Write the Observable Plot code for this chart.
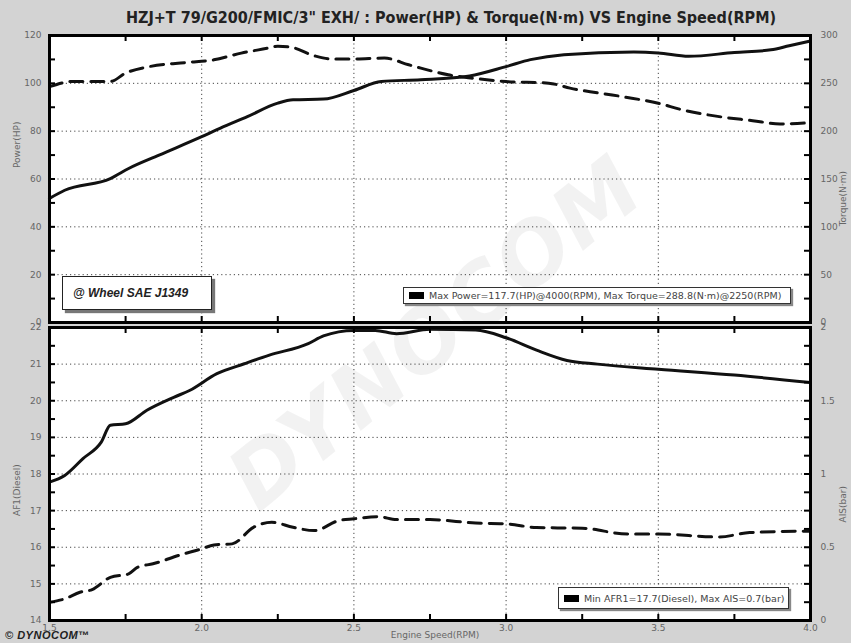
<!DOCTYPE html>
<html><head><meta charset="utf-8">
<script src="https://cdn.jsdelivr.net/npm/d3@7"></script>
<script src="https://cdn.jsdelivr.net/npm/@observablehq/plot@0.6"></script>
<style>
body{margin:0;background:#d3d3d3;}
#wrap{position:relative;width:851px;height:643px;background:#d3d3d3;overflow:hidden;font-family:"DejaVu Sans",sans-serif;}
.abs{position:absolute;}
.panel{position:absolute;background:#fff;overflow:hidden;}
svg{position:absolute;left:0;top:0;background:transparent !important;}
.legend{position:absolute;background:#fff;border:1px solid #333;box-shadow:2px 2px 1px #888;font-size:9.5px;color:#444;display:flex;align-items:center;white-space:nowrap;}
.sw{display:inline-block;flex:0 0 15px;width:15px;height:7px;background:#000;margin:0 5px 0 5px;}
.wm{position:absolute;font:italic 900 85px 'DejaVu Sans',sans-serif;color:rgba(0,0,0,0.05);transform:rotate(-39deg);transform-origin:left center;letter-spacing:2px;line-height:1;white-space:nowrap;}
</style></head>
<body>
<div id="wrap">
  <div class="panel" style="left:49px;top:35px;width:761px;height:287px"><div class="wm" style="left:191px;top:413px">DYNOCOM</div></div>
  <div class="panel" style="left:49px;top:327px;width:761px;height:293px"><div class="wm" style="left:191px;top:121px">DYNOCOM</div></div>
  <div class="abs" id="title" style="left:0;width:902px;top:8px;text-align:center;font:bold 16px 'DejaVu Sans Condensed','DejaVu Sans',sans-serif;color:#222"></div>
  <div id="top"></div>
  <div id="bot"></div>
  <div class="legend" style="left:62px;top:276px;width:148px;height:32px;border-color:#222;box-shadow:3px 3px 1px #777;font:italic bold 12px 'Liberation Sans',Arial,sans-serif;color:#222;"><span style="margin-left:10px">@ Wheel SAE J1349</span></div>
  <div class="legend" id="leg1" style="left:403px;top:287px;width:386px;height:15px"></div>
  <div class="legend" id="leg2" style="left:558px;top:587px;width:229px;height:20px"></div>
  <div class="abs" style="left:5px;top:629px;font:italic bold 11px 'Liberation Sans',Arial,sans-serif;color:#222;letter-spacing:0.5px">© DYNOCOM™</div>
</div>
<script>
const titleText = "HZJ+T 79/G200/FMIC/3\" EXH/ : Power(HP) & Torque(N·m) VS Engine Speed(RPM)";
const legendTop = "Max Power=117.7(HP)@4000(RPM), Max Torque=288.8(N·m)@2250(RPM)";
const legendBot = "Min AFR1=17.7(Diesel), Max AIS=0.7(bar)";

// Power (HP) vs engine speed (x1000 RPM)
const powerRpm = [1.50,1.55,1.70,1.76,1.86,2.00,2.06,2.15,2.25,2.30,2.40,2.50,2.59,2.72,2.88,3.00,3.08,3.19,3.42,3.50,3.60,3.75,3.87,3.93,4.00];
const powerHp  = [51.9,55.3,60.2,64.4,70.0,77.7,81.2,86.1,91.7,93.1,93.4,97.0,100.8,101.5,103.1,107.0,109.9,112.0,113.1,112.7,111.3,112.9,114.0,115.7,117.7];
// Torque (N·m)
const torqueRpm = [1.50,1.58,1.70,1.75,1.83,1.95,2.04,2.13,2.22,2.25,2.29,2.37,2.43,2.50,2.60,2.68,2.72,2.81,2.89,3.00,3.14,3.21,3.38,3.50,3.58,3.70,3.81,3.90,4.00];
const torqueNm  = [246.6,252,252,260.7,267.6,271.8,274.6,281.6,286.9,288.8,288,278.8,275.4,275.4,276.4,269.4,265.9,258.9,255.4,251.9,250.2,245,236.2,229.2,222.2,215.2,211,207.5,208.9];
// AFR1 (Diesel)
const afrRpm = [1.50,1.55,1.61,1.67,1.70,1.75,1.82,1.91,1.96,2.05,2.14,2.22,2.35,2.40,2.50,2.57,2.64,2.75,2.90,3.00,3.10,3.20,3.30,3.50,3.75,4.00];
const afrVal = [17.78,17.96,18.42,18.87,19.33,19.37,19.74,20.10,20.28,20.74,21.01,21.24,21.56,21.77,21.92,21.92,21.83,21.95,21.93,21.72,21.38,21.10,21.00,20.86,20.70,20.50];
// AIS (bar)
const aisRpm = [1.50,1.55,1.60,1.64,1.70,1.76,1.79,1.84,1.93,2.00,2.04,2.10,2.17,2.23,2.30,2.37,2.45,2.50,2.58,2.64,2.75,2.90,3.00,3.10,3.25,3.40,3.50,3.70,3.80,4.00];
const aisVal = [0.125,0.148,0.193,0.211,0.295,0.318,0.364,0.387,0.448,0.489,0.516,0.523,0.636,0.671,0.636,0.614,0.682,0.694,0.709,0.689,0.689,0.665,0.66,0.634,0.63,0.59,0.59,0.57,0.60,0.61];

const xTicks = [1.75,2,2.25,2.5,2.75,3,3.25,3.5,3.75];
const xLabels = [1.5,2,2.5,3,3.5,4];
const hpLabels = [0,20,40,60,80,100,120];
const hpTicks = d3.range(10,120,10);
const afrLabels = [14,15,16,17,18,19,20,21,22];
const afrTicks = d3.range(14.5,22,0.5);
const aisLabels = [0,0.5,1,1.5,2];

const power = powerRpm.map((r,i)=>({rpm:r, v:powerHp[i]}));
const torque = torqueRpm.map((r,i)=>({rpm:r, v:torqueNm[i]}));
const afr = afrRpm.map((r,i)=>({rpm:r, v:afrVal[i]}));
const ais = aisRpm.map((r,i)=>({rpm:r, v:aisVal[i]}));

document.getElementById("title").textContent = titleText;
document.getElementById("leg1").innerHTML = '<span class="sw"></span>';
document.getElementById("leg1").append(legendTop);
document.getElementById("leg2").innerHTML = '<span class="sw"></span>';
document.getElementById("leg2").append(legendBot);

const W = 851, H = 643, mL = 49, mR = 41;
const PW = W - mL - mR;
const grid = {stroke:"#333", strokeOpacity:0.9, strokeDasharray:"1.2,3", strokeWidth:1};
const lab = {fontSize:9, fill:"#666", fontFamily:"DejaVu Sans"};
const tk = 6;

function panel({mt, mb, yDomain, yGrid, ticks, leftLabels, rightLabels, rightFmt, series, leftTitle, leftDy, rightTitle, rightDy, bottomAxis}) {
  const PH = H - mt - mb;
  const marks = [
    Plot.gridY(yGrid, grid),
    Plot.gridX([2,2.5,3,3.5], grid),
    Plot.line(series[0].data, {x:"rpm", y:series[0].y, stroke:"#111", strokeWidth:3, curve:"monotone-x"}),
    Plot.line(series[1].data, {x:"rpm", y:series[1].y, stroke:"#111", strokeWidth:3, strokeDasharray:"13,8", curve:"monotone-x"}),
    Plot.tickY(ticks, {y:d=>d, insetRight:PW-tk, stroke:"#000", strokeWidth:2}),
    Plot.tickY(ticks, {y:d=>d, insetLeft:PW-tk, stroke:"#000", strokeWidth:2}),
    Plot.tickX(xTicks, {x:d=>d, insetTop:PH-tk, stroke:"#000", strokeWidth:2}),
    Plot.tickX(xTicks, {x:d=>d, insetBottom:PH-tk, stroke:"#000", strokeWidth:2}),
    Plot.frame({stroke:"#000", strokeWidth:3}),
    Plot.axisY({ticks:leftLabels, anchor:"left", tickSize:0, tickPadding:8, label:null, ...lab}),
    Plot.axisY({ticks:rightLabels, anchor:"right", tickSize:0, tickPadding:10, tickFormat:rightFmt, label:null, ...lab}),
    Plot.text([leftTitle], {text:d=>d, frameAnchor:"left", dx:-32, dy:leftDy, rotate:-90, ...lab}),
    Plot.text([rightTitle], {text:d=>d, frameAnchor:"right", dx:33, dy:rightDy, rotate:-90, ...lab})
  ];
  if (bottomAxis) {
    marks.push(Plot.axisX({ticks:xLabels, anchor:"bottom", tickSize:0, tickPadding:4, label:null, ...lab}));
    marks.push(Plot.text(["Engine Speed(RPM)"], {text:d=>d, frameAnchor:"bottom", dx:5, dy:17, ...lab}));
  }
  return Plot.plot({
    width:W, height:H, marginLeft:mL, marginRight:mR, marginTop:mt, marginBottom:mb,
    style:{background:"transparent", overflow:"visible"},
    x:{domain:[1.5,4], axis:null},
    y:{domain:yDomain, axis:null},
    marks
  });
}

document.getElementById("top").append(panel({
  mt:35, mb:H-322, yDomain:[0,120], yGrid:[20,40,60,80,100], ticks:hpTicks,
  leftLabels:hpLabels, rightLabels:hpLabels, rightFmt:d=>String(d*2.5),
  series:[{data:power, y:"v"}, {data:torque, y:d=>d.v/2.5}],
  leftTitle:"Power(HP)", leftDy:-11, rightTitle:"Torque(N·m)", rightDy:-8, bottomAxis:false
}));
document.getElementById("bot").append(panel({
  mt:327, mb:H-620, yDomain:[14,22], yGrid:[15,16,17,18,19,20,21], ticks:afrTicks,
  leftLabels:afrLabels, rightLabels:aisLabels.map(v=>14+v*4), rightFmt:d=>String((d-14)/4),
  series:[{data:afr, y:"v"}, {data:ais, y:d=>14+d.v*4}],
  leftTitle:"AF1(Diesel)", leftDy:42, rightTitle:"AIS(bar)", rightDy:12, bottomAxis:true
}));
</script>
</body></html>
